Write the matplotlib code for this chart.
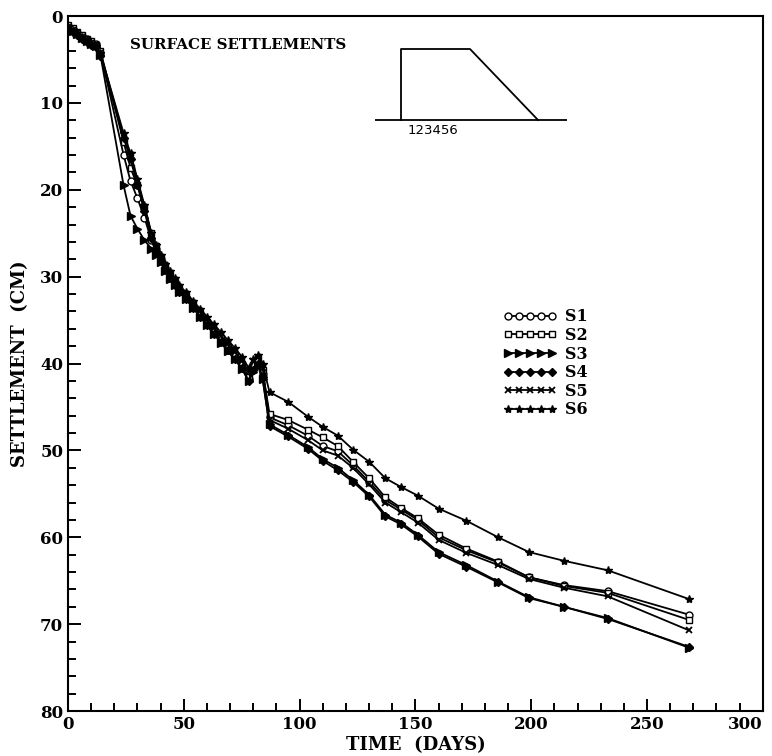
import matplotlib
matplotlib.use("Agg")
import matplotlib.pyplot as plt
from matplotlib.ticker import MultipleLocator

days = [0, 2, 4, 6, 8, 10, 12, 14, 24, 27, 30, 33, 36, 38, 40, 42, 44, 46, 48, 51,
        54, 57, 60, 63, 66, 69, 72, 75, 78, 80, 82, 84, 87, 95, 103.5, 110, 116.5,
        123, 130, 137, 143.7, 151, 160, 172, 185.7, 199, 214, 233, 268]

s1 = [1.2, 1.5, 1.9, 2.3, 2.7, 3.0, 3.2, 4.2, 16.0, 19.0, 21.0, 23.2, 25.8, 26.8, 28.0,
      29.0, 30.0, 30.8, 31.6, 32.5, 33.5, 34.5, 35.5, 36.5, 37.4, 38.4, 39.3, 40.4, 41.8,
      40.5, 39.8, 41.2, 46.2, 47.1, 48.3, 49.5, 50.1, 51.7, 53.6, 55.7, 56.8, 58.0, 60.0,
      61.5, 62.9, 64.6, 65.5, 66.2, 68.9]
s2 = [1.0, 1.4, 1.8, 2.2, 2.6, 2.9, 3.3, 4.0, 14.5, 17.5, 19.5, 22.0, 25.0, 26.5, 27.8,
      28.8, 29.8, 30.6, 31.4, 32.2, 33.2, 34.2, 35.2, 36.2, 37.1, 38.1, 39.0, 40.1, 41.5,
      40.2, 39.5, 40.8, 45.8, 46.5, 47.6, 48.5, 49.5, 51.3, 53.2, 55.4, 56.6, 57.8, 59.7,
      61.3, 62.8, 64.6, 65.6, 66.4, 69.5]
s3 = [1.4, 1.7, 2.1, 2.5, 2.9, 3.2, 3.5, 4.5, 19.5, 23.0, 24.5, 25.8, 26.8, 27.5, 28.3,
      29.3, 30.3, 31.0, 31.8, 32.6, 33.6, 34.6, 35.6, 36.6, 37.6, 38.6, 39.5, 40.6, 42.0,
      41.0, 40.3, 41.8, 47.0, 48.2, 49.6, 51.0, 52.0, 53.4, 55.1, 57.4, 58.3, 59.7, 61.7,
      63.2, 65.1, 66.9, 68.0, 69.3, 72.7]
s4 = [1.5, 1.8, 2.2, 2.6, 3.0, 3.3, 3.6, 4.6, 14.0, 16.5, 19.5, 22.5, 25.5, 27.0, 28.2,
      29.2, 30.2, 31.0, 31.8, 32.6, 33.6, 34.6, 35.6, 36.6, 37.5, 38.5, 39.5, 40.5, 42.0,
      40.8, 40.0, 41.6, 47.2, 48.4, 49.8, 51.2, 52.3, 53.6, 55.3, 57.6, 58.5, 59.9, 61.9,
      63.4, 65.2, 67.0, 68.0, 69.4, 72.6]
s5 = [1.3, 1.6, 2.0, 2.4, 2.8, 3.1, 3.4, 4.3, 13.8, 16.0, 19.0, 22.0, 25.2, 26.5, 27.7,
      28.7, 29.6, 30.4, 31.2, 32.0, 33.0, 34.0, 35.0, 35.9, 36.8, 37.8, 38.7, 39.7, 41.0,
      39.7, 39.2, 40.5, 46.5, 47.5, 48.8, 50.0, 50.6, 52.0, 53.9, 56.0, 57.1, 58.3, 60.3,
      61.8, 63.2, 64.8, 65.8, 66.8, 70.7]
s6 = [1.3, 1.6, 2.0, 2.4, 2.8, 3.1, 3.4, 4.3, 13.5, 15.8, 18.8, 21.8, 25.0, 26.3, 27.5,
      28.5, 29.4, 30.2, 31.0, 31.8, 32.8, 33.7, 34.6, 35.5, 36.4, 37.3, 38.2, 39.2, 40.5,
      39.5, 39.0, 40.0, 43.3, 44.4, 46.1, 47.3, 48.3, 49.9, 51.3, 53.2, 54.2, 55.2, 56.7,
      58.1, 60.0, 61.7, 62.7, 63.8, 67.1]

names = ["S1", "S2", "S3", "S4", "S5", "S6"]
series = [s1, s2, s3, s4, s5, s6]
xticks = [0, 50, 100, 150, 200, 250, 300]

# marker style per series
styles = [
    dict(marker="o", mfc="white", ms=5),
    dict(marker="s", mfc="white", ms=4.5),
    dict(marker=">", mfc="black", ms=5.5),
    dict(marker="D", mfc="black", ms=4),
    dict(marker="x", mfc="black", ms=4.5, mew=1.3),
    dict(marker="*", mfc="black", ms=6),
]

plt.rcParams["font.family"] = ["DejaVu Serif"]
plt.rcParams["font.weight"] = "bold"

fig = plt.figure(figsize=(7.72, 7.56), dpi=100)
ax = fig.add_axes([0.0881, 0.0595, 0.9000, 0.9193])

for name, vals, st in zip(names, series, styles):
    ax.plot(days, vals, color="black", lw=1.3, mec="black", label=name, **st)

ax.set_xticks(xticks)
ax.set_xlim(0, 300)
ax.set_ylim(80, 0)
ax.xaxis.set_minor_locator(MultipleLocator(10))
ax.yaxis.set_major_locator(MultipleLocator(10))
ax.yaxis.set_minor_locator(MultipleLocator(2))
ax.tick_params(which="both", direction="in", width=1.4)
ax.tick_params(which="major", length=9, labelsize=12)
ax.tick_params(which="minor", length=5.5)
for sp in ax.spines.values():
    sp.set_linewidth(1.5)
for lab in ax.get_xticklabels() + ax.get_yticklabels():
    lab.set_fontweight("bold")
# last x label sits against the figure edge
ax.xaxis.get_major_ticks()[-1].label1.set_horizontalalignment("right")

ax.set_xlabel("TIME  (DAYS)", fontsize=13, fontweight="bold", labelpad=2)
ax.set_ylabel("SETTLEMENT  (CM)", fontsize=13, fontweight="bold", labelpad=8)

ax.text(0.089, 0.958, "SURFACE SETTLEMENTS", transform=ax.transAxes,
        fontsize=10.8, fontweight="bold", va="center", ha="left")

leg = ax.legend(loc="upper left", bbox_to_anchor=(0.605, 0.6), frameon=False,
                numpoints=5, handlelength=3.4, handletextpad=0.5,
                labelspacing=0.1, prop=dict(family="DejaVu Serif", weight="bold", size=11.5))

# embankment sketch
ins = fig.add_axes([375 / 772, 1 - 135 / 756, 192 / 772, 90 / 756])
ins.set_xlim(375, 567)
ins.set_ylim(135, 45)
ins.axis("off")
ins.plot([375, 567], [120, 120], color="black", lw=1.3)
ins.plot([401, 401, 470, 538], [120, 49, 49, 120], color="black", lw=1.3)
ins.text(408, 131, "123456", fontsize=9.5, family="DejaVu Sans", fontweight="normal",
         va="center", ha="left")

fig.savefig("out.png", dpi=100)
